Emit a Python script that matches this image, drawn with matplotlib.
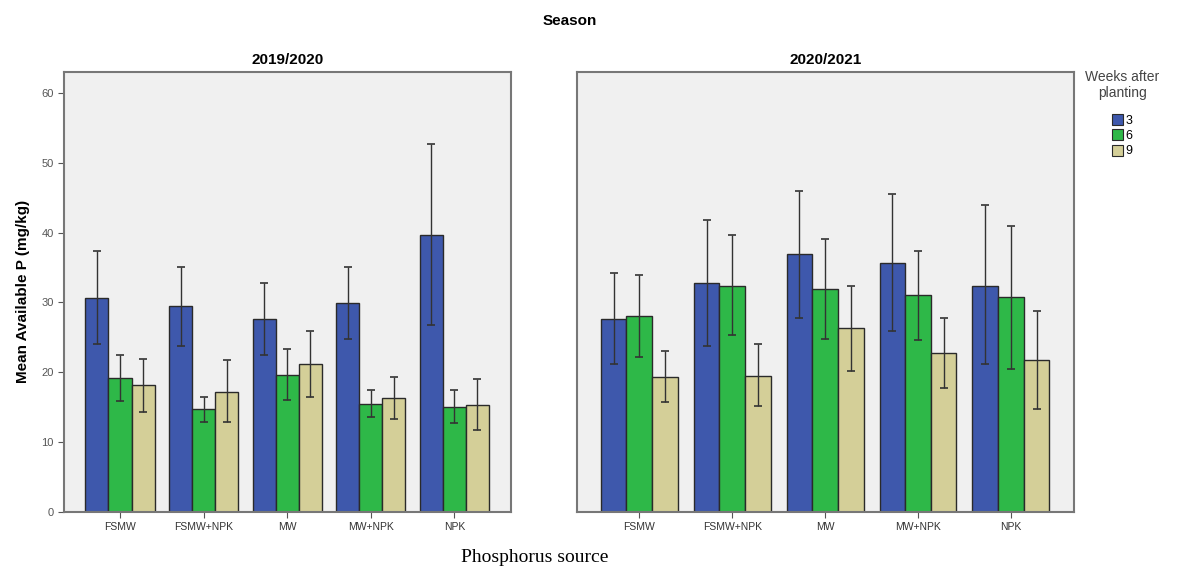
import matplotlib
matplotlib.use("Agg")
import matplotlib.pyplot as plt
import numpy as np
from matplotlib.patches import Patch

plt.rcParams["font.family"] = ["Liberation Sans", "DejaVu Sans"]

sources = ["FSMW", "FSMW+NPK", "MW", "MW+NPK", "NPK"]
weeks = ["3", "6", "9"]
seasons = ["2019/2020", "2020/2021"]

# means per season, per week (rows), per source (cols)
mean_1920 = [
    [30.6, 29.4, 27.6, 29.9, 39.7],
    [19.1, 14.7, 19.6, 15.5, 15.0],
    [18.1, 17.2, 21.2, 16.3, 15.3],
]
low_1920 = [
    [24.0, 23.7, 22.4, 24.8, 26.7],
    [15.8, 12.9, 16.0, 13.5, 12.7],
    [14.3, 12.8, 16.4, 13.3, 11.7],
]
high_1920 = [
    [37.3, 35.0, 32.7, 35.1, 52.7],
    [22.5, 16.5, 23.3, 17.5, 17.4],
    [21.9, 21.7, 25.9, 19.3, 19.0],
]
mean_2021 = [
    [27.6, 32.8, 36.9, 35.7, 32.4],
    [28.0, 32.3, 31.9, 31.0, 30.7],
    [19.3, 19.5, 26.3, 22.8, 21.7],
]
low_2021 = [
    [21.2, 23.8, 27.8, 25.9, 21.1],
    [22.2, 25.3, 24.8, 24.6, 20.5],
    [15.7, 15.1, 20.2, 17.7, 14.7],
]
high_2021 = [
    [34.2, 41.8, 46.0, 45.5, 43.9],
    [33.9, 39.6, 39.1, 37.4, 41.0],
    [23.0, 24.0, 32.3, 27.8, 28.8],
]

colors = ["#3e58ac", "#2eb848", "#d4cf98"]
edge = "#2a2a2a"

fig = plt.figure(figsize=(11.88, 5.69), dpi=100)
ax1 = fig.add_axes([0.0539, 0.1007, 0.3763, 0.7728])
ax2 = fig.add_axes([0.4857, 0.1007, 0.4184, 0.7728])

data = [(mean_1920, low_1920, high_1920), (mean_2021, low_2021, high_2021)]
x = np.arange(len(sources))
w = 0.276

for ax, season, (m, lo, hi) in zip([ax1, ax2], seasons, data):
    ax.set_facecolor("#f0f0f0")
    for i in range(3):
        mm = np.array(m[i])
        err = [mm - np.array(lo[i]), np.array(hi[i]) - mm]
        pos = x + (i - 1) * w
        ax.bar(pos, mm, width=w, color=colors[i], edgecolor=edge, linewidth=1.0, zorder=2)
        ax.errorbar(pos, mm, yerr=err, fmt="none", ecolor="#333333", elinewidth=1.0,
                    capsize=3, capthick=1.2, zorder=3)
    ax.set_xlim(-0.67, 4.68)
    ax.set_ylim(0, 63)
    ax.set_xticks(x)
    ax.set_xticklabels(sources, fontsize=7.5, color="#333333")
    ax.set_title(season, fontsize=11, fontweight="bold", pad=6)
    for s in ax.spines.values():
        s.set_color("#777777")
        s.set_linewidth(1.5)
    ax.tick_params(axis="x", length=4, color="#555555")

ax1.set_yticks([0, 10, 20, 30, 40, 50, 60])
ax1.tick_params(axis="y", labelsize=8, colors="#555555", length=4)
ax1.set_ylabel("Mean Available P (mg/kg)", fontsize=11, fontweight="bold", labelpad=8)
ax2.set_yticks([])

fig.text(0.48, 0.963, "Season", ha="center", va="center", fontsize=11, fontweight="bold")
fig.text(0.45, 0.02, "Phosphorus source", ha="center", va="center", fontsize=14,
         family=["Liberation Serif", "DejaVu Serif"])

handles = [Patch(facecolor=c, edgecolor=edge, linewidth=0.8) for c in colors]
leg = fig.legend(handles, weeks, title="Weeks after\nplanting", loc="upper left",
                 bbox_to_anchor=(0.905, 0.895), frameon=False, fontsize=9,
                 title_fontsize=10, handlelength=0.9, handleheight=1.0,
                 handletextpad=0.15, labelspacing=0.2, borderpad=0.3)
leg.get_title().set_color("#444444")
leg.get_title().set_multialignment("center")
leg._legend_box.sep = 10

fig.savefig("out.png", dpi=100)
